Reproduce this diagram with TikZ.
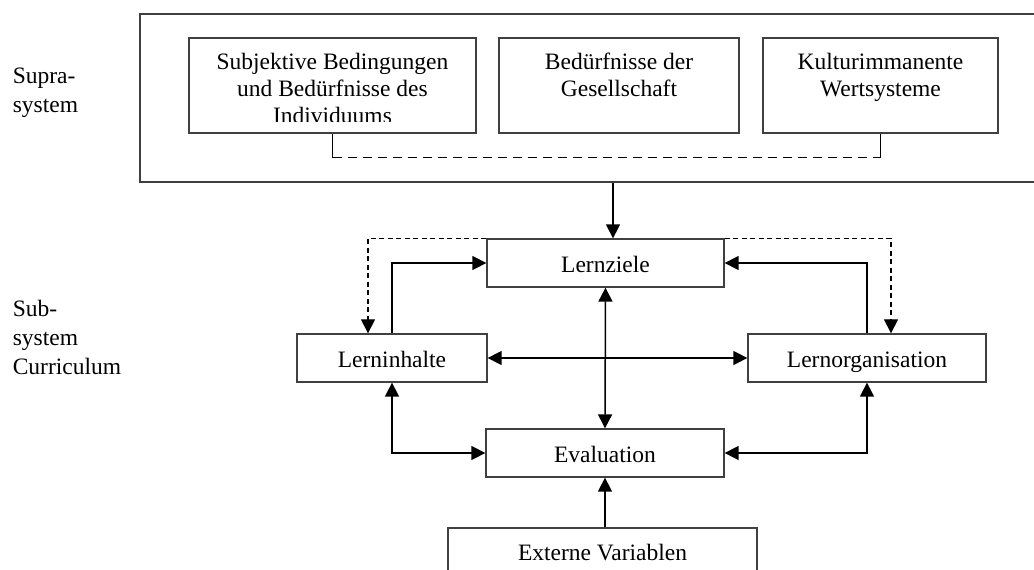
\documentclass[tikz,border=0pt]{standalone}
\usepackage{fontspec}
\setmainfont{Liberation Serif}
\usetikzlibrary{arrows.meta,positioning,calc}

\begin{document}
\begin{tikzpicture}[x=1pt,y=-1pt,line width=1.5pt,
  font=\fontsize{23.5}{27}\selectfont,
  cbox/.style={draw=black!75,line width=1.3pt,inner sep=0pt},
  unit/.style={cbox,text height=20pt,text depth=2pt},
  txt/.style={inner sep=0pt,align=center},
  side/.style={inner sep=0pt,align=left,anchor=north west,font=\fontsize{23.5}{29}\selectfont},
  tip/.style={-{Triangle[length=14pt,width=14pt]}},
  tips/.style={{Triangle[length=14pt,width=14pt]}-{Triangle[length=14pt,width=14pt]}},
  dsh/.style={dash pattern=on 5pt off 3.5pt,line width=1.2pt}]
  \useasboundingbox (0,0) rectangle (1034,570);

  % Suprasystem
  \node[cbox,minimum width=905pt,minimum height=168pt] (supra) at (592.5,98) {};
  \node[cbox,minimum width=287pt,minimum height=95pt] (indiv) at (332.5,85.5) {};
  \node[cbox,minimum width=240pt,minimum height=95pt] (gesell) at (619,85.5) {};
  \node[cbox,minimum width=235pt,minimum height=95pt] (wert) at (880.5,85.5) {};
  \begin{scope}
    \clip (indiv.north west) rectangle ($(indiv.south east)+(0,-12)$);
    \node[txt,anchor=north] (indivtxt) at ($(indiv.north)+(0,15)$) {Subjektive Bedingungen\\und Bedürfnisse des\\Individuums};
  \end{scope}
  \node[txt,anchor=north] (geselltxt) at ($(gesell.north)+(0,15)$) {Bedürfnisse der\\Gesellschaft};
  \node[txt,anchor=north] (werttxt) at ($(wert.north)+(0,15)$) {Kulturimmanente\\Wertsysteme};
  \coordinate (jl) at ($(indiv.south)+(0,24)$);
  \coordinate (jr) at (jl -| wert.south);
  \draw (indiv.south) -- (jl);
  \draw[dash pattern=on 9pt off 6pt,line width=1.2pt] (jl) -- (jr);
  \draw (jr) -- (wert.south);

  \node[side] (supralbl) at (12,67) {Supra-\\system};
  \node[side] (sublbl) at (12,299) {Sub-\\system\\Curriculum};

  % Subsystem Curriculum
  \node[unit,minimum width=237pt,minimum height=48pt] (ziele) at (605.5,263) {Lernziele};
  \node[unit,minimum width=190pt,minimum height=48pt] (inhalte) at (392,358) {Lerninhalte};
  \node[unit,minimum width=238pt,minimum height=48pt] (orga) at (867,358) {Lernorganisation};
  \node[unit,minimum width=238pt,minimum height=48pt] (eval) at (605,453) {Evaluation};
  \node[unit,minimum width=309pt,minimum height=47pt] (extern) at (602.5,551.5) {Externe Variablen};

  \coordinate (zin) at ([xshift=7.5pt]ziele.north);
  \draw[tip] (supra.south -| zin) -- (zin);
  \draw[tip,dsh] (ziele.north west) -| ([xshift=-24pt]inhalte.north);
  \draw[tip,dsh] (ziele.north east) -| ([xshift=24pt]orga.north);
  \draw[tip] (inhalte.north) |- (ziele.west);
  \draw[tip] (orga.north) |- (ziele.east);
  \draw[tips] (inhalte.east) -- (orga.west);
  \draw[tips] (ziele.south) -- (eval.north);
  \draw[tips] (inhalte.south) |- (eval.west);
  \draw[tips] (orga.south) |- (eval.east);
  \draw[tip] (eval.south |- extern.north) -- (eval.south);
\end{tikzpicture}
\end{document}
